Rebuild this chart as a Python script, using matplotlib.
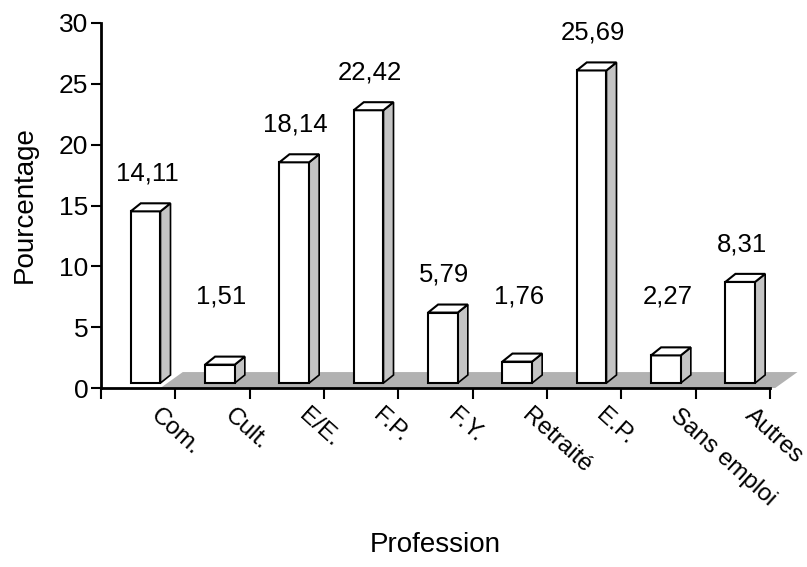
import matplotlib.pyplot as plt
from matplotlib.patches import Polygon

categories = ['Com.', 'Cult.', 'E/E.', 'F.P.', 'F.Y.', 'Retraité', 'E.P.', 'Sans emploi', 'Autres']
values = [14.11, 1.51, 18.14, 22.42, 5.79, 1.76, 25.69, 2.27, 8.31]
yticks = [0, 5, 10, 15, 20, 25, 30]

plt.rcParams['font.family'] = ['Liberation Sans', 'DejaVu Sans']

fig = plt.figure(figsize=(8.07, 5.67), dpi=100)
ax = fig.add_axes([101 / 807, 1 - 388 / 567, 669 / 807, 365 / 567])

# pseudo-3D geometry (in data units)
left, width, base = 0.40, 0.40, 0.41
dx, dy = 0.135, 0.66
fdx, fdy = 0.30, 1.31

# grey floor
n = len(values)
fx = left + width
floor = Polygon([(fx, 0), (n + 0.07, 0), (n + 0.07 + fdx, fdy), (fx + fdx, fdy)],
                closed=True, facecolor='#b2b2b2', edgecolor='none', zorder=1, clip_on=False)
ax.add_patch(floor)

for i, v in enumerate(values):
    x0 = i + left
    x1 = x0 + width
    top = base + v
    side = Polygon([(x1, base), (x1 + dx, base + dy), (x1 + dx, top + dy), (x1, top)],
                   closed=True, facecolor='#c4c4c4', edgecolor='black', linewidth=1.2,
                   zorder=2 + i * 0.01, clip_on=False)
    ax.add_patch(side)
    ax.bar(x0, v, width=width, bottom=base, align='edge', color='white',
           edgecolor='black', linewidth=1.5, zorder=3 + i * 0.01)
    lid = Polygon([(x0, top), (x0 + dx, top + dy), (x1 + dx, top + dy), (x1, top)],
                  closed=True, facecolor='white', edgecolor='black', linewidth=1.5,
                  zorder=4 + i * 0.01, clip_on=False)
    ax.add_patch(lid)
    label = f'{v:.2f}'.replace('.', ',')
    ax.text(i + 0.62, max(v + 3.5, 7.5), label, ha='center', va='center', fontsize=18.5)

ax.set_xlim(0, n)
ax.set_ylim(0, 30)
ax.set_yticks(yticks)
ax.set_xticks(range(n + 1))
ax.set_xticklabels([])
ax.tick_params(axis='y', length=7, width=1.5, labelsize=19, pad=2)
ax.tick_params(axis='x', length=8, width=1.5)

for i, name in enumerate(categories):
    ax.annotate(name, xy=(i + 0.5, 0), xycoords='data', xytext=(11, -18),
                textcoords='offset points', rotation=-42, rotation_mode='anchor',
                ha='left', va='center', fontsize=17.5, annotation_clip=False)

for s in ['top', 'right']:
    ax.spines[s].set_visible(False)
ax.spines['left'].set_linewidth(2)
ax.spines['bottom'].set_linewidth(2)
ax.patch.set_alpha(0)

fig.text(25 / 807, 1 - 205 / 567, 'Pourcentage', rotation=90, ha='center', va='center', fontsize=20)
fig.text(435 / 807, 1 - 545 / 567, 'Profession', ha='center', va='center', fontsize=20)

fig.savefig('out.png', dpi=100)
